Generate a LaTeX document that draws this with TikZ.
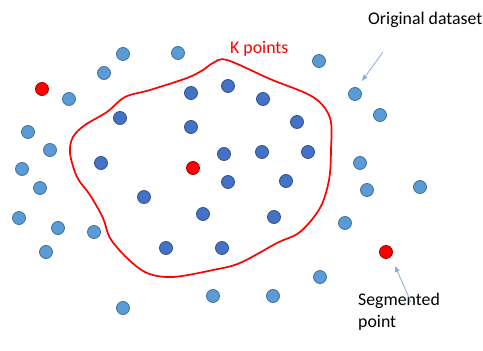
\documentclass[tikz,border=0pt]{standalone}
\usepackage{fontspec}
\setmainfont{Carlito}
\usetikzlibrary{arrows.meta}
\definecolor{lb}{HTML}{5B9BD5}
\definecolor{lbd}{HTML}{41719C}
\definecolor{db}{HTML}{4472C4}
\definecolor{dbd}{HTML}{2F528F}
\definecolor{rd}{HTML}{FF0000}
\definecolor{rdd}{HTML}{A00000}
\definecolor{arr}{HTML}{8EA9DB}
\tikzset{
  dot/.style={circle, minimum size=13pt, inner sep=0pt, line width=0.8pt},
  ldot/.style={dot, fill=lb, draw=lbd},
  ddot/.style={dot, fill=db, draw=dbd},
  rdot/.style={dot, fill=rd, draw=rdd},
  lbl/.style={font=\fontsize{17.8}{22}\selectfont, inner sep=0pt, anchor=base west, align=left},
  pointer/.style={draw=arr, line width=0.8pt, -{Triangle[length=6pt,width=4.5pt]}}
}
\begin{document}
\begin{tikzpicture}[x=1pt,y=-1pt]
\useasboundingbox (0,0) rectangle (483,351);
% boundary
\draw[rd, line width=1.7pt] plot[smooth cycle, tension=0.55] coordinates {
 (227,60) (270,79) (313,97) (330,118) (331,150) (329,180) (320,208) (300,232)
 (277,243) (240,263) (213,270) (173,277) (147,273) (127,258) (110,238)
 (103,218) (90,195) (77,177) (70,153) (73,137) (85,125) (107,112) (125,97)
 (150,90) (187,78) (203,70) (213,63)};
% light points
\foreach \n/\x/\y in {l1/123/54, l2/178/53, l3/104/73, l4/319/61, l5/69/99, l6/355/94,
  l7/380/115, l8/28/132, l9/50/150, l10/22/169, l11/360/163, l12/40/188, l13/367/190,
  l14/420/187, l15/19/218, l16/58/228, l17/94/232, l18/345/223, l19/46/252,
  l20/320/277, l21/213/296, l22/273/296, l23/123/308}
  \node[ldot] (\n) at (\x,\y) {};
% dark points
\foreach \n/\x/\y in {d1/191/93, d2/228/86, d3/263/99, d4/120/118, d5/191/127, d6/297/122,
  d7/224/154, d8/262/152, d9/308/152, d10/101/163, d11/228/182, d12/286/181,
  d13/144/197, d14/203/214, d15/274/217, d16/166/248, d17/222/248}
  \node[ddot] (\n) at (\x,\y) {};
% red points
\node[rdot] (r1) at (42,89) {};
\node[rdot] (r2) at (193,168) {};
\node[rdot] (seg) at (386,252) {};
% labels
\node[lbl, text=rd] (kp) at (230,53) {K points};
\node[lbl] (orig) at (368,24) {Original dataset};
\node[lbl, align=left] (segl) at (358,327) {Segmented\\point};
\coordinate (a1s) at (383,52);
\coordinate (a1e) at (362,81);
\coordinate (a2s) at (411,302);
\coordinate (a2e) at (395,266);
\draw[pointer] (a1s) -- (a1e);
\draw[pointer] (a2s) -- (a2e);
\end{tikzpicture}
\end{document}
